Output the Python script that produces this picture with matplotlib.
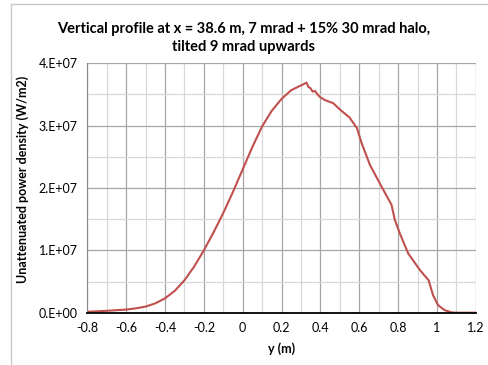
import numpy as np
import matplotlib.pyplot as plt
from matplotlib.ticker import MultipleLocator, FuncFormatter
from matplotlib.lines import Line2D

# ── DADOS ────────────────────────────────────────────────────────────────────
y_m = [-0.80, -0.70, -0.60, -0.55, -0.50, -0.45, -0.40, -0.35, -0.30, -0.25,
       -0.20, -0.15, -0.10, -0.05, 0.00, 0.05, 0.10, 0.15, 0.20, 0.25,
       0.303, 0.329, 0.337, 0.349, 0.36, 0.372, 0.383, 0.397, 0.423, 0.466,
       0.50, 0.55, 0.588, 0.612, 0.655, 0.715, 0.766, 0.783, 0.809, 0.852,
       0.912, 0.957, 0.980, 1.006, 1.04, 1.075, 1.10, 1.20]
densidade = [0.15e6, 0.3e6, 0.5e6, 0.7e6, 0.98e6, 1.5e6, 2.3e6, 3.5e6, 5.2e6, 7.4e6,
             10.0e6, 12.9e6, 16.0e6, 19.4e6, 23.0e6, 26.6e6, 29.9e6, 32.4e6, 34.3e6, 35.7e6,
             36.5e6, 36.9e6, 36.25e6, 36.0e6, 35.45e6, 35.56e6, 35.1e6, 34.6e6, 34.1e6, 33.6e6,
             32.6e6, 31.3e6, 29.6e6, 27.2e6, 23.7e6, 20.2e6, 17.3e6, 14.9e6, 12.7e6, 9.5e6,
             6.85e6, 5.2e6, 2.8e6, 1.2e6, 0.4e6, 0.05e6, 0.0, 0.0]

TITULO = 'Vertical profile at x = 38.6 m, 7 mrad + 15% 30 mrad halo,\ntilted 9 mrad upwards'
X_LABEL = 'y (m)'
Y_LABEL = 'Unattenuated power density (W/m2)'

# ── PLOT ─────────────────────────────────────────────────────────────────────
plt.rcParams['font.family'] = ['Lato', 'DejaVu Sans']

fig = plt.figure(figsize=(4.88, 3.65), dpi=100)
ax = fig.add_axes([0.179, 0.1433, 0.796, 0.6833])

ax.plot(y_m, densidade, color='#c0504d', lw=1.5, solid_joinstyle='round')

ax.set_xlim(-0.8, 1.2)
ax.set_ylim(0, 4e7)
ax.xaxis.set_major_locator(MultipleLocator(0.2))
ax.xaxis.set_minor_locator(MultipleLocator(0.1))
ax.yaxis.set_major_locator(MultipleLocator(1e7))
ax.yaxis.set_minor_locator(MultipleLocator(5e6))

ax.xaxis.set_major_formatter(FuncFormatter(lambda v, p: f'{v:.1f}'.rstrip('0').rstrip('.') if abs(v) > 1e-9 else '0'))
ax.yaxis.set_major_formatter(FuncFormatter(lambda v, p: f'{v/1e7:.0f}.E+07' if v > 0 else '0.E+00'))

ax.grid(which='major', color='#a6a6a6', lw=0.9)
ax.grid(which='minor', color='#d9d9d9', lw=0.9)
ax.set_axisbelow(True)
ax.tick_params(which='both', length=0, labelsize=9, pad=7)

for s in ['top', 'right']:
    ax.spines[s].set_visible(False)
ax.spines['left'].set_color('#868686')
ax.spines['bottom'].set_color('black')
ax.spines['bottom'].set_linewidth(1.3)

ax.set_xlabel(X_LABEL, fontsize=9, fontweight='bold', labelpad=6)
ax.set_ylabel(Y_LABEL, fontsize=9, fontweight='bold')
ax.yaxis.set_label_coords(-0.15, 0.536)
fig.text(0.5, 0.895, TITULO, ha='center', va='center', fontsize=10.5,
         fontweight='bold', linespacing=1.35)

# moldura do gráfico (borda cortada)
fig.add_artist(Line2D([11/488, 11/488], [0, 1 - 4/365], color='#c8c8c8', lw=1, transform=fig.transFigure))
fig.add_artist(Line2D([11/488, 1], [1 - 4/365, 1 - 4/365], color='#c8c8c8', lw=1, transform=fig.transFigure))

plt.savefig('out.png', dpi=100)
